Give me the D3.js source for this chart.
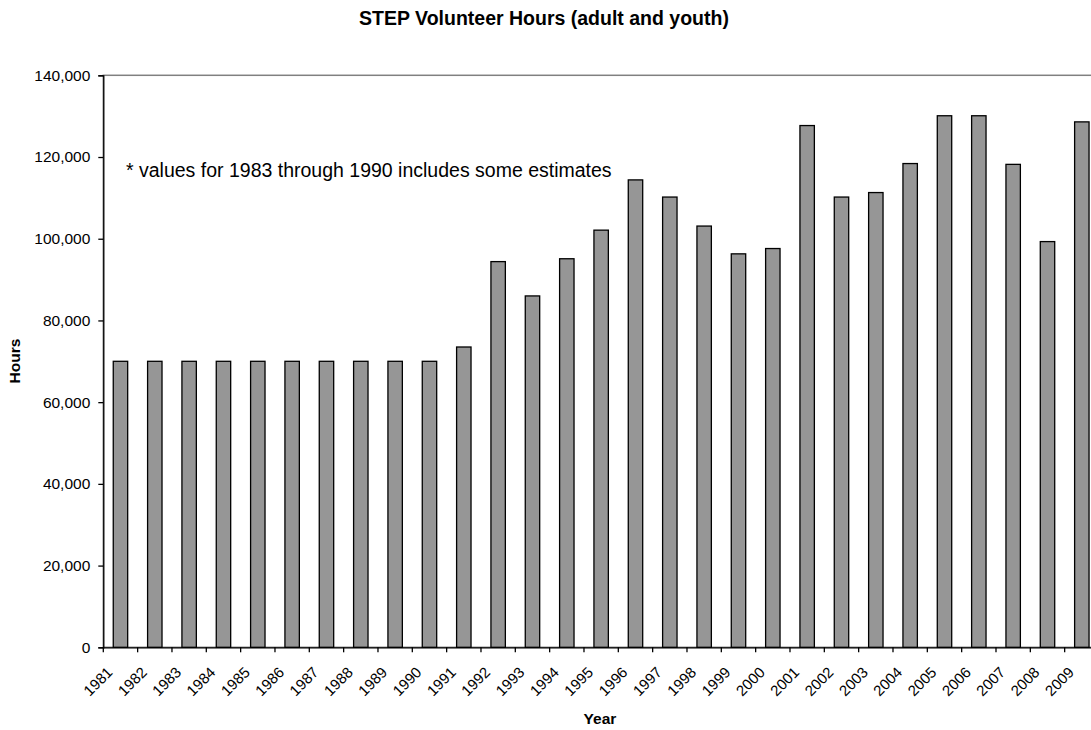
<!DOCTYPE html>
<html>
<head>
<meta charset="utf-8">
<script src="https://cdn.jsdelivr.net/npm/d3@7"></script>
<style>
  html, body { margin: 0; padding: 0; background: #fff; overflow: hidden; }
  svg { display: block; font-family: "Liberation Sans", Arial, sans-serif; }
</style>
</head>
<body>
<div id="chart"></div>
<script>
// data
const years = ['1981', '1982', '1983', '1984', '1985', '1986', '1987', '1988', '1989', '1990',
  '1991', '1992', '1993', '1994', '1995', '1996', '1997', '1998', '1999', '2000',
  '2001', '2002', '2003', '2004', '2005', '2006', '2007', '2008', '2009'];
const hours = [70000, 70000, 70000, 70000, 70000, 70000, 70000, 70000, 70000, 70000,
  73500, 94400, 86000, 95100, 102100, 114400, 110200, 103100, 96300, 97600,
  127700, 110200, 111300, 118400, 130100, 130100, 118200, 99300, 128600];
const yTicks = [0, 20000, 40000, 60000, 80000, 100000, 120000, 140000];
const note = '* values for 1983 through 1990 includes some estimates';

const width = 1091, height = 730;
// plot area runs past the right edge of the picture, like the original
const margin = { top: 75.3, left: 103.3 };
const plotW = 995.7, plotH = 572;

const svg = d3.select('#chart').append('svg')
  .attr('width', width)
  .attr('height', height);

const x = d3.scaleBand()
  .domain(years)
  .range([margin.left, margin.left + plotW])
  .paddingInner(0.58)
  .paddingOuter(0.29);

const y = d3.scaleLinear()
  .domain([0, 140000])
  .range([margin.top + plotH, margin.top]);

// plot area border (grey)
svg.append('rect')
  .attr('x', margin.left)
  .attr('y', margin.top)
  .attr('width', plotW)
  .attr('height', plotH)
  .attr('fill', 'none')
  .attr('stroke', '#808080')
  .attr('stroke-width', 1.5);

// bars
svg.selectAll('.bar')
  .data(years)
  .enter()
  .append('rect')
  .attr('class', 'bar')
  .attr('x', d => x(d))
  .attr('y', (d, i) => y(hours[i]))
  .attr('width', x.bandwidth())
  .attr('height', (d, i) => y(0) - y(hours[i]))
  .attr('fill', '#969696')
  .attr('stroke', '#000')
  .attr('stroke-width', 1.3);

// y axis
const yAxis = svg.append('g')
  .attr('transform', `translate(${margin.left},0)`)
  .call(d3.axisLeft(y).tickValues(yTicks).tickSize(5).tickPadding(8)
    .tickFormat(d3.format(',')));
yAxis.selectAll('path, line').attr('stroke', '#000').attr('stroke-width', 1.3);
yAxis.selectAll('text')
  .style('font-size', '15.5px')
  .attr('fill', '#000');

// x axis: labels from the axis, tick marks between categories
const xAxis = svg.append('g')
  .attr('transform', `translate(0,${margin.top + plotH})`)
  .call(d3.axisBottom(x).tickSize(0).tickPadding(0));
xAxis.select('.domain').attr('stroke', '#000').attr('stroke-width', 1.3);
xAxis.selectAll('.tick text')
  .style('font-size', '15px')
  .attr('fill', '#000')
  .attr('text-anchor', 'end')
  .attr('dy', null)
  .attr('y', 0)
  .attr('transform', 'translate(-7,26) rotate(-45)');

const step = x.step();
xAxis.selectAll('.bound')
  .data(years)
  .enter()
  .append('line')
  .attr('class', 'bound')
  .attr('x1', d => x(d) - step * 0.29)
  .attr('x2', d => x(d) - step * 0.29)
  .attr('y1', 0)
  .attr('y2', 5)
  .attr('stroke', '#000')
  .attr('stroke-width', 1.3);

// title
svg.append('text')
  .attr('x', 544)
  .attr('y', 25)
  .attr('text-anchor', 'middle')
  .style('font-size', '19.5px')
  .style('font-weight', 'bold')
  .text('STEP Volunteer Hours (adult and youth)');

// axis titles
svg.append('text')
  .attr('transform', `translate(20,361) rotate(-90)`)
  .attr('text-anchor', 'middle')
  .style('font-size', '15.5px')
  .style('font-weight', 'bold')
  .text('Hours');

svg.append('text')
  .attr('x', 600)
  .attr('y', 724)
  .attr('text-anchor', 'middle')
  .style('font-size', '15.5px')
  .style('font-weight', 'bold')
  .text('Year');

// note
svg.append('text')
  .attr('x', 126)
  .attr('y', 177)
  .style('font-size', '19.5px')
  .text(note);
</script>
</body>
</html>
